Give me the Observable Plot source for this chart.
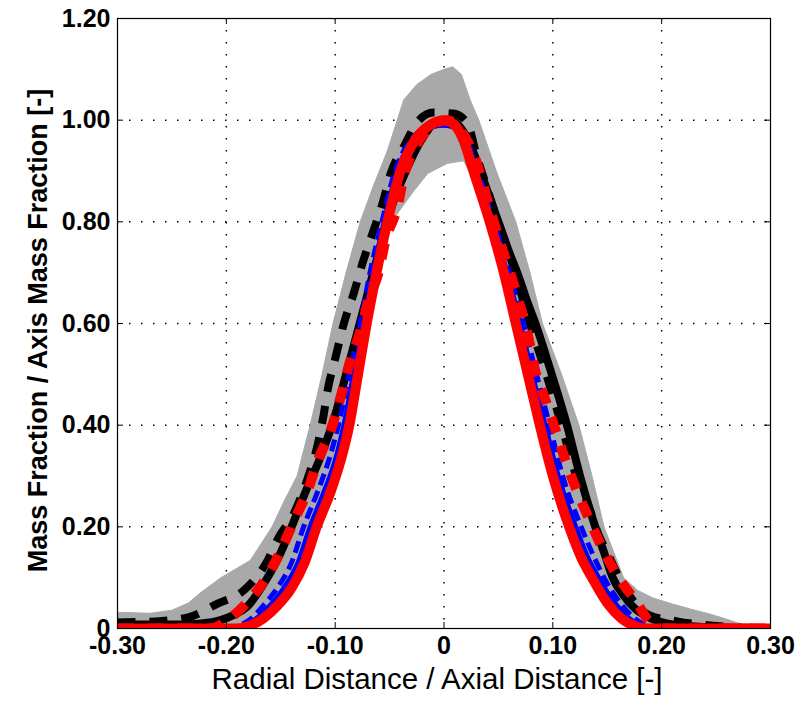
<!DOCTYPE html>
<html><head><meta charset="utf-8">
<script src="https://cdn.jsdelivr.net/npm/d3@7"></script>
<script src="https://cdn.jsdelivr.net/npm/@observablehq/plot@0.6"></script>
<style>body{margin:0;background:#fff;}</style>
</head><body><div id="chart"></div>
<script>
// Tick values and labels
const xTickValues = [-0.3, -0.2, -0.1, 0, 0.1, 0.2, 0.3];
const xTickLabels = ["-0.30", "-0.20", "-0.10", "0", "0.10", "0.20", "0.30"];
const yTickValues = [0, 0.2, 0.4, 0.6, 0.8, 1.0, 1.2];
const yTickLabels = ["0", "0.20", "0.40", "0.60", "0.80", "1.00", "1.20"];
const xTitle = "Radial Distance / Axial Distance [-]";
const yTitle = "Mass Fraction / Axis Mass Fraction [-]";

// Gray scatter band (experimental runs): outer envelope and inner envelope
const grayUpperX = [-0.30, -0.27, -0.25, -0.235, -0.224, -0.205, -0.178, -0.158, -0.147, -0.135, -0.123, -0.112, -0.102, -0.090, -0.077, -0.065, -0.052, -0.043, -0.037, -0.025, -0.012, 0.0, 0.008, 0.016, 0.024, 0.032, 0.048, 0.066, 0.079, 0.0905, 0.108, 0.124, 0.136, 0.147, 0.156, 0.165, 0.178, 0.192, 0.210, 0.227, 0.245, 0.26, 0.28, 0.30];
const grayUpperY = [0.032, 0.03, 0.036, 0.05, 0.07, 0.10, 0.134, 0.20, 0.25, 0.30, 0.40, 0.50, 0.60, 0.70, 0.80, 0.87, 0.94, 1.0, 1.04, 1.07, 1.09, 1.10, 1.105, 1.09, 1.04, 1.0, 0.90, 0.80, 0.70, 0.60, 0.50, 0.40, 0.30, 0.20, 0.15, 0.10, 0.075, 0.06, 0.048, 0.038, 0.028, 0.018, 0.004, 0];
const grayLowerX = [-0.30, -0.20, -0.185, -0.17, -0.15, -0.13, -0.117, -0.104, -0.087, -0.071, -0.058, -0.045, -0.028, -0.015, 0.003, 0.018, 0.028, 0.036, 0.042, 0.055, 0.066, 0.077, 0.088, 0.100, 0.115, 0.136, 0.150, 0.163, 0.18, 0.20, 0.30];
const grayLowerY = [0.005, 0.005, 0.01, 0.025, 0.06, 0.14, 0.20, 0.27, 0.40, 0.60, 0.74, 0.81, 0.86, 0.895, 0.915, 0.92, 0.88, 0.84, 0.80, 0.70, 0.60, 0.50, 0.40, 0.30, 0.20, 0.10, 0.05, 0.02, 0.005, 0.002, 0];

// Black solid
const blackSolidX = [-0.30, -0.24, -0.215, -0.195, -0.180, -0.165, -0.152, -0.140, -0.127, -0.113, -0.100, -0.090, -0.080, -0.070, -0.060, -0.048, -0.035, -0.021, -0.008, 0.005, 0.020, 0.031, 0.040, 0.050, 0.060, 0.069, 0.077, 0.084, 0.099, 0.113, 0.125, 0.139, 0.147, 0.155, 0.165, 0.175, 0.19, 0.21, 0.24, 0.27, 0.30];
const blackSolidY = [0.008, 0.008, 0.012, 0.025, 0.045, 0.09, 0.14, 0.20, 0.27, 0.34, 0.42, 0.50, 0.58, 0.66, 0.74, 0.83, 0.90, 0.96, 0.995, 1.0, 0.97, 0.915, 0.86, 0.80, 0.74, 0.69, 0.64, 0.60, 0.50, 0.40, 0.30, 0.20, 0.15, 0.10, 0.065, 0.04, 0.02, 0.008, 0.003, 0.001, 0];

// Black dashed
const blackDashX = [-0.30, -0.265, -0.235, -0.208, -0.184, -0.162, -0.152, -0.138, -0.125, -0.1167, -0.111, -0.107, -0.0997, -0.092, -0.083, -0.075, -0.0657, -0.0565, -0.049, -0.0354, -0.0246, -0.0097, 0.0087, 0.0216, 0.030, 0.039, 0.048, 0.058, 0.068, 0.079, 0.094, 0.108, 0.120, 0.133, 0.141, 0.152, 0.162, 0.172, 0.188, 0.214, 0.25, 0.30];
const blackDashY = [0.012, 0.014, 0.022, 0.049, 0.075, 0.134, 0.179, 0.226, 0.297, 0.356, 0.415, 0.468, 0.533, 0.60, 0.659, 0.718, 0.777, 0.836, 0.895, 0.954, 0.996, 1.015, 1.013, 0.993, 0.93, 0.87, 0.81, 0.75, 0.68, 0.60, 0.50, 0.40, 0.31, 0.24, 0.19, 0.14, 0.095, 0.06, 0.027, 0.014, 0.005, 0];

// Blue solid
const blueSolidX = [-0.30, -0.195, -0.183, -0.172, -0.160, -0.147, -0.134, -0.123, -0.110, -0.100, -0.092, -0.083, -0.074, -0.065, -0.055, -0.043, -0.029, -0.014, 0.0, 0.011, 0.020, 0.029, 0.044, 0.058, 0.070, 0.081, 0.093, 0.105, 0.121, 0.132, 0.142, 0.157, 0.170, 0.182, 0.192, 0.30];
const blueSolidY = [0, 0, 0.006, 0.02, 0.045, 0.08, 0.13, 0.20, 0.27, 0.33, 0.40, 0.50, 0.60, 0.70, 0.80, 0.90, 0.96, 0.985, 0.99, 0.985, 0.96, 0.90, 0.80, 0.70, 0.60, 0.50, 0.40, 0.30, 0.20, 0.14, 0.10, 0.05, 0.02, 0.005, 0, 0];

// Blue dashed
const blueDashX = [-0.30, -0.20, -0.188, -0.177, -0.166, -0.153, -0.140, -0.129, -0.116, -0.106, -0.097, -0.087, -0.077, -0.068, -0.057, -0.045, -0.031, -0.015, 0.0, 0.012, 0.021, 0.031, 0.046, 0.060, 0.073, 0.085, 0.097, 0.109, 0.126, 0.138, 0.147, 0.162, 0.175, 0.187, 0.197, 0.30];
const blueDashY = [0, 0, 0.006, 0.02, 0.045, 0.08, 0.13, 0.20, 0.27, 0.33, 0.40, 0.50, 0.60, 0.70, 0.80, 0.90, 0.96, 0.985, 0.99, 0.985, 0.96, 0.90, 0.80, 0.70, 0.60, 0.50, 0.40, 0.30, 0.20, 0.14, 0.10, 0.05, 0.02, 0.005, 0, 0];

// Red solid
const redSolidX = [-0.30, -0.19, -0.178, -0.166, -0.153, -0.140, -0.128, -0.117, -0.104, -0.095, -0.087, -0.079, -0.071, -0.062, -0.052, -0.040, -0.027, -0.013, 0.000, 0.010, 0.018, 0.027, 0.042, 0.055, 0.066, 0.077, 0.088, 0.100, 0.115, 0.126, 0.136, 0.150, 0.163, 0.175, 0.185, 0.30];
const redSolidY = [0, 0, 0.006, 0.02, 0.045, 0.08, 0.13, 0.20, 0.27, 0.33, 0.40, 0.50, 0.60, 0.70, 0.80, 0.90, 0.96, 0.99, 1.0, 0.99, 0.96, 0.90, 0.80, 0.70, 0.60, 0.50, 0.40, 0.30, 0.20, 0.14, 0.10, 0.05, 0.02, 0.005, 0, 0];

// Red dashed
const redDashX = [-0.30, -0.215, -0.198, -0.181, -0.162, -0.150, -0.1365, -0.1255, -0.116, -0.104, -0.095, -0.087, -0.0767, -0.0694, -0.0602, -0.0538, -0.0427, -0.0372, -0.0244, -0.010, 0.003, 0.015, 0.0271, 0.0427, 0.0519, 0.0611, 0.0703, 0.0767, 0.0841, 0.0933, 0.1025, 0.1117, 0.1227, 0.1347, 0.1466, 0.1604, 0.1778, 0.188, 0.20, 0.30];
const redDashY = [0, 0, 0.018, 0.051, 0.104, 0.153, 0.218, 0.27, 0.33, 0.39, 0.455, 0.52, 0.586, 0.645, 0.70, 0.763, 0.83, 0.887, 0.954, 0.99, 1.0, 0.98, 0.934, 0.822, 0.757, 0.698, 0.632, 0.58, 0.504, 0.449, 0.39, 0.33, 0.268, 0.209, 0.153, 0.10, 0.049, 0.015, 0, 0];

const pts = (xs, ys) => xs.map((x, i) => ({x, y: ys[i]}));
const grayOutline = pts(grayUpperX, grayUpperY).concat(pts(grayLowerX, grayLowerY).reverse());

const font = "Liberation Sans, Arial, Helvetica, sans-serif";
const innerW = 801 - 117 - 31, innerH = 702 - 18 - 74, tickLen = 6;
const gridDash = "1.5,10.5";

const chart = Plot.plot({
  width: 801, height: 702,
  marginLeft: 117, marginRight: 31, marginTop: 18, marginBottom: 74,
  style: {fontFamily: font, background: "white", color: "black"},
  x: {domain: [-0.3, 0.3]},
  y: {domain: [0, 1.2]},
  marks: [
    Plot.gridX(xTickValues.slice(1, -1), {stroke: "black", strokeOpacity: 1, strokeWidth: 1.5, strokeDasharray: gridDash}),
    Plot.gridY(yTickValues.slice(1, -1), {stroke: "black", strokeOpacity: 1, strokeWidth: 1.5, strokeDasharray: gridDash}),
    Plot.line(grayOutline, {x: "x", y: "y", fill: "#a9a9a9", stroke: "#a9a9a9", strokeWidth: 1, curve: "linear", clip: true}),
    Plot.line(pts(blackSolidX, blackSolidY), {x: "x", y: "y", stroke: "black", strokeWidth: 8, curve: "monotone-x", clip: true}),
    Plot.line(pts(blackDashX, blackDashY), {x: "x", y: "y", stroke: "black", strokeWidth: 8, strokeDasharray: "18,14", strokeLinecap: "butt", curve: "monotone-x", clip: true}),
    Plot.line(pts(blueSolidX, blueSolidY), {x: "x", y: "y", stroke: "#0000ff", strokeWidth: 5, curve: "monotone-x", clip: true}),
    Plot.line(pts(blueDashX, blueDashY), {x: "x", y: "y", stroke: "#0000ff", strokeWidth: 5, strokeDasharray: "12,6", strokeLinecap: "butt", curve: "monotone-x", clip: true}),
    Plot.line(pts(redSolidX, redSolidY), {x: "x", y: "y", stroke: "#ff0000", strokeWidth: 10, curve: "monotone-x", clip: true}),
    Plot.line(pts(redDashX, redDashY), {x: "x", y: "y", stroke: "#ff0000", strokeWidth: 10, strokeDasharray: "16,14", strokeLinecap: "butt", curve: "monotone-x", clip: true}),
    Plot.frame({stroke: "black", strokeWidth: 1.2}),
    Plot.tickX(xTickValues, {x: d => d, stroke: "black", insetTop: innerH - tickLen}),
    Plot.tickX(xTickValues, {x: d => d, stroke: "black", insetBottom: innerH - tickLen}),
    Plot.tickY(yTickValues, {y: d => d, stroke: "black", insetRight: innerW - tickLen}),
    Plot.tickY(yTickValues, {y: d => d, stroke: "black", insetLeft: innerW - tickLen}),
    Plot.axisX({ticks: xTickValues, tickFormat: d => xTickLabels[xTickValues.indexOf(d)], tickSize: 0, tickPadding: 8, fontSize: 25, fontWeight: "bold", fill: "black", label: null}),
    Plot.axisY({ticks: yTickValues, tickFormat: d => yTickLabels[yTickValues.indexOf(d)], tickSize: 0, tickPadding: 7, fontSize: 25, fontWeight: "bold", fill: "black", label: null}),
    Plot.text([xTitle], {text: d => d, frameAnchor: "bottom", textAnchor: "middle", dx: -7, dy: 60, fontSize: 29.5, fill: "black"}),
    Plot.text([yTitle], {text: d => d, frameAnchor: "left", textAnchor: "middle", dx: -79, dy: 7, rotate: -90, fontSize: 27, fontWeight: "bold", fill: "black"})
  ]
});
document.getElementById("chart").append(chart);
</script></body></html>
